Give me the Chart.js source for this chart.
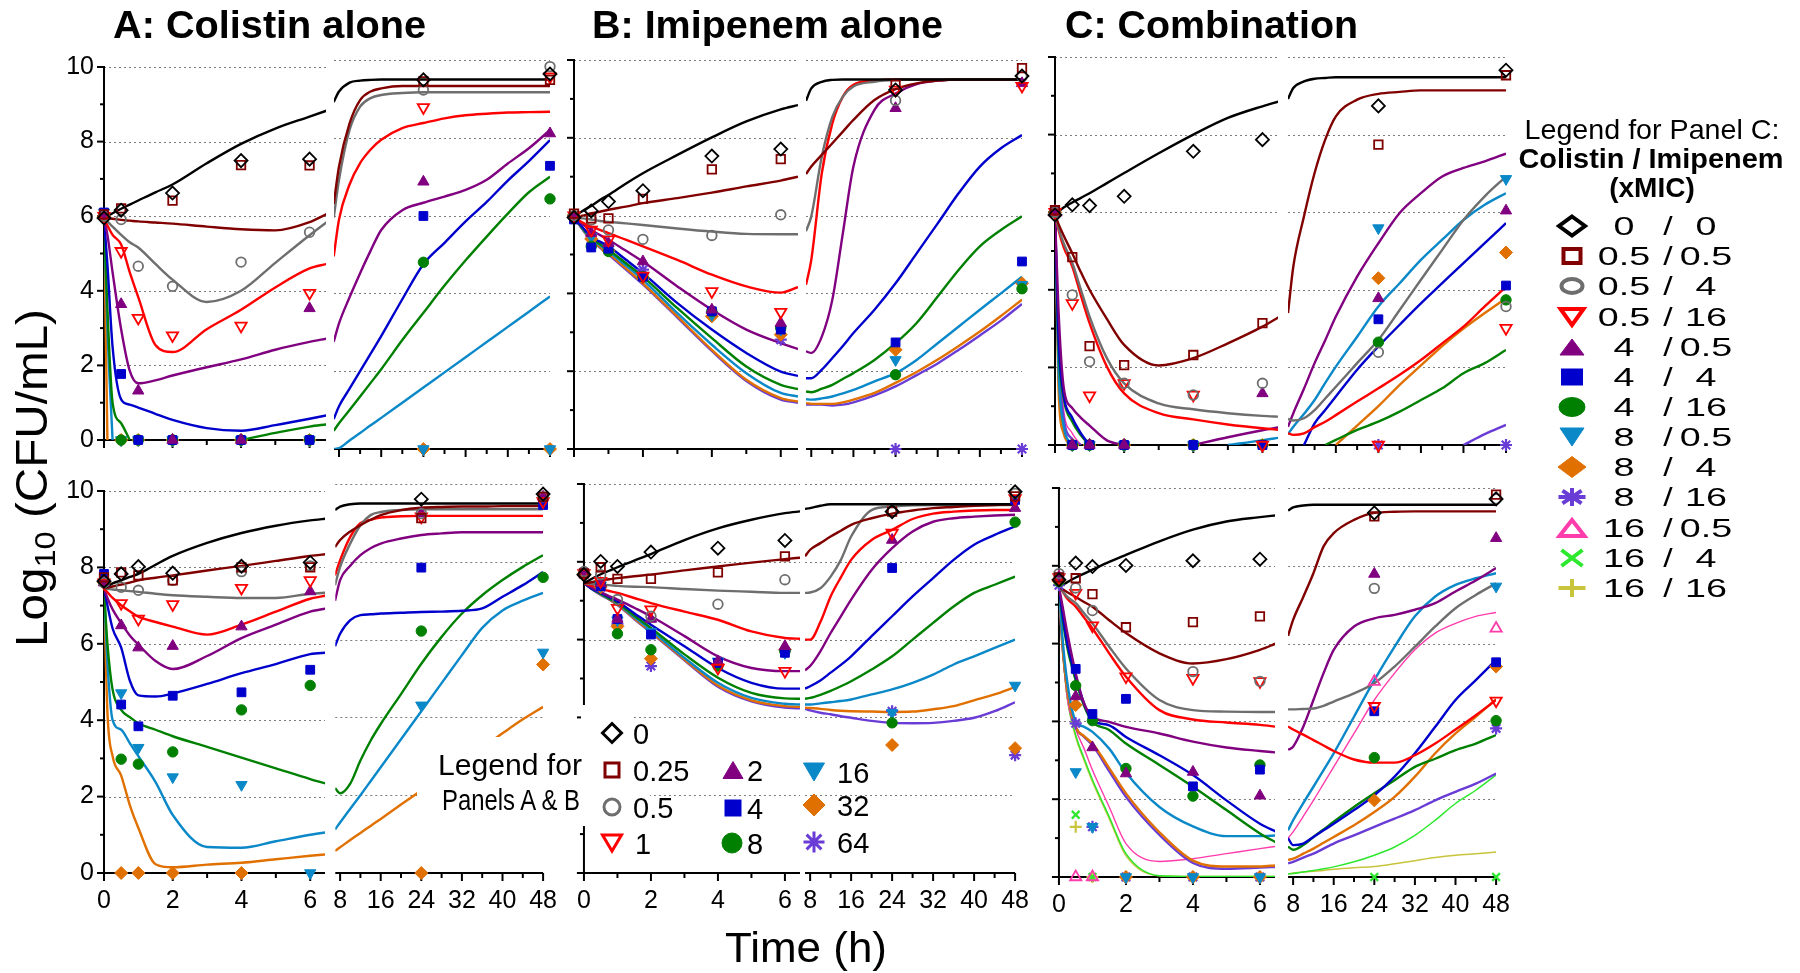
<!DOCTYPE html>
<html><head><meta charset="utf-8">
<script src="https://cdn.jsdelivr.net/npm/chart.js@4.4.1/dist/chart.umd.min.js"></script>
<style>
html,body{margin:0;padding:0;background:#fff;}
#root{position:relative;width:1800px;height:973px;overflow:hidden;background:#fff;}
#root canvas{position:absolute;}
#ov{position:absolute;left:0;top:0;z-index:10;pointer-events:none;}
</style></head><body><div id="root"></div>
<script>
// ---------------- DATA ----------------
const T_EARLY = [0, 0.1, 0.25, 0.5, 0.75, 1, 1.5, 2, 3, 4, 5, 6, 6.5];
const T_LATE = [7, 8, 10, 12, 14, 16, 20, 24, 28, 32, 36, 40, 44, 48];
const T_OBS = [0, 0.5, 1, 2, 4, 6, 24, 48];
const Y_TICKS = [0, 2, 4, 6, 8, 10];
const Y_MINOR = [1, 3, 5, 7, 9];
const GRID_VALUES = [2, 4, 6, 8, 10];
const X_TICKS_EARLY = [0, 2, 4, 6];
const X_MINOR_EARLY = [1, 3, 5];
const X_TICKS_LATE = [8, 16, 24, 32, 40, 48];
const X_MINOR_LATE = [12, 20, 28, 36, 44];
const MONO_LABELS = ['0', '0.25', '0.5', '1', '2', '4', '8', '16', '32', '64'];
const COMBO_LABELS = ['0 / 0', '0.5 / 0.5', '0.5 / 4', '0.5 / 16', '4 / 0.5', '4 / 4', '4 / 16', '8 / 0.5', '8 / 4', '8 / 16', '16 / 0.5', '16 / 4', '16 / 16'];

// Panel A (colistin alone), top
const A_TOP_FIT_EARLY = [
  [5.95, 6.0, 6.08, 6.2, 6.31, 6.42, 6.64, 6.85, 7.42, 7.94, 8.35, 8.67, 8.83],
  [5.95, 5.94, 5.93, 5.9, 5.88, 5.86, 5.83, 5.8, 5.72, 5.65, 5.62, 5.84, 6.06],
  [5.95, 5.86, 5.72, 5.5, 5.3, 5.16, 4.72, 4.3, 3.7, 4.0, 4.75, 5.49, 5.84],
  [5.95, 5.75, 5.5, 5.24, 4.5, 3.83, 2.55, 2.36, 2.97, 3.49, 4.09, 4.6, 4.72],
  [5.95, 5.5, 4.5, 2.97, 1.86, 1.52, 1.6, 1.73, 1.95, 2.16, 2.42, 2.63, 2.72],
  [5.95, 4.7, 2.5, 1.09, 0.95, 0.87, 0.7, 0.54, 0.32, 0.25, 0.4, 0.57, 0.66],
  [5.95, 3.5, 1.0, 0.45, 0, null, null, null, null, 0, 0.19, 0.36, 0.42],
  [5.95, 3.0, 0, null, null, null, null, null, null, null, null, null, null],
  [5.95, 0, null, null, null, null, null, null, null, null, null, null, null]
];
const A_TOP_FIT_LATE = [
  [8.92, 9.19, 9.42, 9.47, 9.49, 9.5, 9.5, 9.5, 9.5, 9.5, 9.5, 9.5, 9.5, 9.5],
  [6.3, 7.26, 8.37, 8.97, 9.19, 9.27, 9.33, 9.33, 9.33, 9.33, 9.33, 9.33, 9.33, 9.33],
  [5.95, 6.92, 8.2, 8.8, 9.02, 9.1, 9.15, 9.17, 9.17, 9.17, 9.17, 9.17, 9.17, 9.17],
  [4.95, 5.9, 6.8, 7.35, 7.7, 7.95, 8.25, 8.38, 8.5, 8.58, 8.62, 8.65, 8.66, 8.67],
  [2.76, 3.23, 3.9, 4.52, 5.1, 5.63, 6.14, 6.33, 6.49, 6.66, 6.92, 7.34, 7.73, 8.2],
  [0.77, 1.1, 1.55, 2.0, 2.45, 2.9, 3.85, 4.75, 5.3, 5.85, 6.35, 6.9, 7.4, 7.94],
  [0.47, 0.66, 1.0, 1.35, 1.7, 2.05, 2.8, 3.5, 4.2, 4.85, 5.46, 6.05, 6.6, 7.0],
  [0, 0.02, 0.22, 0.41, 0.61, 0.8, 1.19, 1.58, 1.97, 2.36, 2.75, 3.14, 3.53, 3.92],
  [null, null, null, null, null, null, null, null, null, null, null, null, null, null]
];
const A_TOP_OBS = [
  [5.95, 6.16, null, 6.62, 7.49, 7.53, 9.49, 9.64],
  [6.05, 6.21, null, 6.42, 7.37, 7.36, 9.45, 9.49],
  [6.0, 5.91, 4.66, 4.12, 4.77, 5.57, 9.23, 9.83],
  [6.0, 5.06, 3.27, 2.8, 3.06, 3.94, 8.78, 9.57],
  [6.0, 3.64, 1.32, 0, 0, 3.53, 6.87, 8.11],
  [6.1, 1.77, 0, 0, 0, 0, 5.99, 7.28],
  [6.0, 0, 0, 0, 0, 0, 4.8, 6.43],
  [6.1, 0, 0, 0, 0, 0, 0, 0],
  [6.0, 0, 0, 0, 0, 0, 0, 0]
];
// Panel A, bottom
const A_BOT_FIT_EARLY = [
  [7.45, 7.5, 7.58, 7.66, 7.75, 7.83, 8.07, 8.3, 8.64, 8.9, 9.09, 9.23, 9.28],
  [7.45, 7.47, 7.5, 7.55, 7.6, 7.66, 7.73, 7.79, 7.92, 8.04, 8.17, 8.3, 8.35],
  [7.45, 7.44, 7.42, 7.4, 7.38, 7.36, 7.31, 7.27, 7.23, 7.2, 7.2, 7.31, 7.34],
  [7.45, 7.35, 7.2, 7.01, 6.85, 6.71, 6.57, 6.45, 6.24, 6.5, 6.84, 7.18, 7.27],
  [7.45, 7.2, 6.9, 6.54, 6.22, 5.98, 5.55, 5.34, 5.68, 6.15, 6.5, 6.84, 6.93],
  [7.45, 7.0, 6.4, 5.9, 5.04, 4.65, 4.62, 4.7, 4.95, 5.23, 5.47, 5.73, 5.77],
  [7.45, 6.0, 4.8, 4.27, 4.08, 3.92, 3.75, 3.58, 3.3, 3.02, 2.74, 2.46, 2.33],
  [7.45, 5.5, 4.0, 3.75, 3.4, 3.06, 2.38, 1.52, 0.68, 0.66, 0.83, 1.0, 1.07],
  [7.45, 4.2, 3.06, 2.55, 1.78, 1.18, 0.23, 0.15, 0.22, 0.27, 0.36, 0.45, 0.49]
];
const A_BOT_FIT_LATE = [
  [9.33, 9.42, 9.48, 9.5, 9.5, 9.5, 9.5, 9.5, 9.5, 9.5, 9.5, 9.5, 9.5, 9.5],
  [8.38, 8.56, 8.78, 8.94, 9.08, 9.2, 9.33, 9.39, 9.41, 9.42, 9.42, 9.43, 9.43, 9.43],
  [7.4, 7.87, 8.47, 8.94, 9.2, 9.28, 9.33, 9.35, 9.35, 9.35, 9.35, 9.35, 9.35, 9.35],
  [7.65, 8.04, 8.64, 8.99, 9.08, 9.14, 9.17, 9.18, 9.18, 9.18, 9.18, 9.18, 9.18, 9.18],
  [7.0, 7.53, 7.9, 8.17, 8.35, 8.47, 8.6, 8.69, 8.73, 8.76, 8.76, 8.76, 8.76, 8.76],
  [5.83, 6.15, 6.5, 6.63, 6.65, 6.67, 6.69, 6.71, 6.72, 6.74, 6.8, 7.1, 7.4, 7.74],
  [2.18, 2.05, 2.3, 2.89, 3.4, 3.83, 4.6, 5.38, 6.07, 6.67, 7.14, 7.53, 7.87, 8.17],
  [1.12, 1.3, 1.65, 2.0, 2.36, 2.72, 3.44, 4.16, 4.88, 5.6, 6.3, 6.75, 7.0, 7.2],
  [0.57, 0.66, 0.85, 1.03, 1.21, 1.39, 1.76, 2.12, 2.49, 2.86, 3.22, 3.59, 3.95, 4.27]
];
const A_BOT_OBS = [
  [7.64, 7.83, 8.02, 7.85, 8.03, 8.13, 9.61, 9.74],
  [7.74, 7.87, 7.79, 7.66, 8.0, 8.0, 9.12, 9.67],
  [7.6, 7.48, 7.4, 7.66, 7.89, 8.04, 9.24, 9.67],
  [7.6, 7.06, 6.65, 7.03, 7.46, 7.66, 9.16, 9.55],
  [7.6, 6.48, 5.9, 5.94, 6.45, 7.37, 9.24, 9.67],
  [7.83, 4.41, 3.84, 4.64, 4.73, 5.32, 7.85, 9.46],
  [7.6, 2.98, 2.85, 3.17, 4.27, 4.91, 6.22, 7.6],
  [7.6, 4.71, 3.28, 2.51, 2.31, 0, 4.31, 5.67],
  [7.6, 0, 0, 0, 0, null, 0, 5.36]
];
// Panel B (imipenem alone), top
const B_TOP_FIT_EARLY = [
  [5.95, 6.03, 6.12, 6.25, 6.4, 6.53, 6.82, 7.09, 7.56, 8.01, 8.42, 8.73, 8.84],
  [5.95, 5.97, 6.0, 6.06, 6.1, 6.15, 6.23, 6.32, 6.45, 6.59, 6.75, 6.9, 7.0],
  [5.95, 5.94, 5.93, 5.9, 5.86, 5.84, 5.8, 5.76, 5.67, 5.59, 5.53, 5.52, 5.52],
  [5.95, 5.9, 5.82, 5.72, 5.63, 5.55, 5.38, 5.21, 4.86, 4.48, 4.18, 4.02, 4.16],
  [5.95, 5.88, 5.78, 5.63, 5.5, 5.38, 5.1, 4.82, 4.18, 3.58, 3.07, 2.72, 2.57],
  [5.95, 5.85, 5.7, 5.45, 5.33, 5.21, 4.87, 4.52, 3.75, 3.07, 2.47, 1.99, 1.88],
  [5.95, 5.85, 5.68, 5.42, 5.27, 5.12, 4.78, 4.43, 3.62, 2.85, 2.12, 1.65, 1.54],
  [5.95, 5.84, 5.66, 5.4, 5.24, 5.08, 4.72, 4.35, 3.49, 2.68, 1.95, 1.44, 1.35],
  [5.95, 5.83, 5.65, 5.37, 5.2, 5.03, 4.65, 4.26, 3.41, 2.55, 1.78, 1.31, 1.22],
  [5.95, 5.83, 5.64, 5.36, 5.18, 5.0, 4.62, 4.23, 3.38, 2.52, 1.75, 1.27, 1.19]
];
const B_TOP_FIT_LATE = [
  [8.95, 9.27, 9.44, 9.49, 9.5, 9.5, 9.5, 9.5, 9.5, 9.5, 9.5, 9.5, 9.5, 9.5],
  [7.07, 7.26, 7.56, 7.86, 8.16, 8.46, 8.97, 9.25, 9.4, 9.47, 9.5, 9.5, 9.5, 9.5],
  [5.6, 5.98, 7.52, 8.54, 9.06, 9.32, 9.44, 9.49, 9.5, 9.5, 9.5, 9.5, 9.5, 9.5],
  [4.22, 4.86, 7.09, 8.37, 9.06, 9.36, 9.47, 9.5, 9.5, 9.5, 9.5, 9.5, 9.5, 9.5],
  [2.51, 2.47, 2.89, 3.84, 5.55, 7.26, 8.72, 9.14, 9.38, 9.47, 9.5, 9.5, 9.5, 9.5],
  [1.82, 1.82, 2.04, 2.34, 2.65, 2.98, 3.58, 4.26, 5.03, 5.8, 6.58, 7.26, 7.73, 8.07],
  [1.48, 1.46, 1.55, 1.65, 1.8, 1.95, 2.29, 2.72, 3.24, 3.92, 4.61, 5.21, 5.63, 5.98],
  [1.28, 1.27, 1.3, 1.35, 1.43, 1.52, 1.74, 1.95, 2.29, 2.72, 3.15, 3.58, 4.0, 4.43],
  [1.18, 1.16, 1.16, 1.16, 1.2, 1.27, 1.44, 1.7, 1.98, 2.3, 2.65, 3.02, 3.42, 3.84],
  [1.14, 1.14, 1.14, 1.12, 1.14, 1.2, 1.38, 1.61, 1.9, 2.2, 2.55, 2.92, 3.3, 3.73]
];
const B_TOP_OBS = [
  [5.95, 6.12, 6.36, 6.64, 7.53, 7.71, 9.23, 9.59],
  [6.05, 5.93, 5.93, 6.43, 7.19, 7.45, 9.36, 9.79],
  [6.0, 5.89, 5.63, 5.39, 5.49, 6.02, 8.96, 9.57],
  [6.0, 5.63, 5.38, 4.45, 4.05, 3.52, 9.23, 9.33],
  [6.0, 5.55, 5.29, 4.82, 3.58, 3.24, 8.76, 9.4],
  [5.9, 5.18, 5.15, 4.43, 3.54, 3.07, 2.74, 4.82],
  [5.95, 5.21, 5.08, 4.43, 3.54, 3.11, 1.91, 4.12],
  [5.95, 5.46, 5.16, 4.43, 3.45, 3.07, 2.29, 4.22],
  [6.0, 5.4, 5.1, 4.4, 3.41, 2.94, 2.55, 4.26],
  [6.0, 5.4, 5.1, 4.61, 3.5, 2.81, 0, 0]
];
// Panel B, bottom
const B_BOT_FIT_EARLY = [
  [7.45, 7.5, 7.57, 7.68, 7.77, 7.86, 8.03, 8.2, 8.56, 8.86, 9.08, 9.25, 9.3],
  [7.45, 7.46, 7.48, 7.52, 7.55, 7.58, 7.63, 7.67, 7.78, 7.88, 7.98, 8.07, 8.11],
  [7.45, 7.44, 7.43, 7.41, 7.4, 7.38, 7.36, 7.35, 7.3, 7.26, 7.23, 7.2, 7.2],
  [7.45, 7.42, 7.38, 7.3, 7.25, 7.2, 7.07, 6.94, 6.72, 6.51, 6.21, 6.04, 6.02],
  [7.45, 7.4, 7.33, 7.22, 7.12, 7.03, 6.82, 6.6, 6.09, 5.57, 5.27, 5.19, 5.19],
  [7.45, 7.39, 7.3, 7.2, 7.09, 6.98, 6.68, 6.38, 5.83, 5.27, 4.89, 4.74, 4.74],
  [7.45, 7.39, 7.3, 7.18, 7.06, 6.94, 6.62, 6.3, 5.62, 5.02, 4.63, 4.49, 4.48],
  [7.45, 7.39, 7.3, 7.17, 7.05, 6.92, 6.58, 6.24, 5.53, 4.89, 4.5, 4.35, 4.33],
  [7.45, 7.39, 7.3, 7.16, 7.04, 6.9, 6.55, 6.2, 5.49, 4.82, 4.44, 4.29, 4.27],
  [7.45, 7.39, 7.29, 7.15, 7.03, 6.89, 6.53, 6.18, 5.47, 4.79, 4.41, 4.25, 4.23]
];
const B_BOT_FIT_LATE = [
  [9.36, 9.38, 9.44, 9.48, 9.48, 9.48, 9.48, 9.48, 9.48, 9.48, 9.48, 9.48, 9.48, 9.48],
  [8.14, 8.31, 8.48, 8.65, 8.8, 8.95, 9.12, 9.24, 9.32, 9.38, 9.41, 9.44, 9.46, 9.48],
  [7.2, 7.21, 7.32, 7.62, 8.05, 8.65, 9.33, 9.42, 9.45, 9.46, 9.46, 9.46, 9.46, 9.46],
  [6.0, 6.0, 6.45, 7.11, 7.6, 8.05, 8.56, 8.82, 9.1, 9.24, 9.29, 9.32, 9.33, 9.33],
  [5.21, 5.32, 5.7, 6.17, 6.6, 7.03, 7.79, 8.35, 8.78, 9.03, 9.12, 9.16, 9.19, 9.21],
  [4.74, 4.8, 4.95, 5.15, 5.35, 5.57, 6.09, 6.6, 7.11, 7.58, 8.05, 8.44, 8.69, 8.91],
  [4.48, 4.5, 4.58, 4.68, 4.8, 4.93, 5.23, 5.57, 6.0, 6.43, 6.85, 7.2, 7.41, 7.62],
  [4.33, 4.33, 4.36, 4.39, 4.42, 4.46, 4.59, 4.72, 4.89, 5.1, 5.36, 5.57, 5.79, 6.0],
  [4.25, 4.24, 4.22, 4.19, 4.17, 4.16, 4.15, 4.14, 4.15, 4.21, 4.29, 4.44, 4.59, 4.78],
  [4.22, 4.18, 4.12, 4.08, 4.03, 3.99, 3.91, 3.86, 3.85, 3.86, 3.91, 3.99, 4.16, 4.39]
];
const B_BOT_OBS = [
  [7.67, 8.01, 7.88, 8.25, 8.35, 8.55, 9.29, 9.8],
  [7.7, 7.86, 7.56, 7.56, 7.73, 8.14, 9.29, 9.68],
  [7.75, 7.67, 7.03, 6.6, 6.91, 7.54, 9.29, 9.76],
  [7.7, 7.5, 6.81, 6.77, 5.27, 5.19, 8.74, 9.63],
  [7.7, 7.45, 6.53, 6.53, 5.44, 5.83, 8.56, 9.38],
  [7.7, 7.37, 6.53, 6.13, 5.4, 5.66, 7.84, 9.59],
  [7.7, 7.4, 6.15, 5.74, 5.32, 5.7, 3.86, 9.02],
  [7.7, 7.4, 6.5, 6.2, 5.44, 5.66, 4.12, 4.82],
  [7.7, 7.35, 6.34, 5.51, 5.35, 5.74, 3.29, 3.21],
  [7.7, 7.35, 6.4, 5.32, 5.35, 5.7, 4.16, 3.03]
];
// Panel C (combination), top
const C_TOP_FIT_EARLY = [
  [5.95, 6.02, 6.12, 6.25, 6.37, 6.49, 6.75, 7.01, 7.52, 8.0, 8.43, 8.73, 8.86],
  [5.95, 5.7, 5.4, 4.94, 4.45, 4.0, 3.25, 2.58, 2.05, 2.24, 2.62, 3.05, 3.31],
  [5.95, 5.6, 5.2, 4.69, 4.0, 3.31, 2.24, 1.59, 1.07, 0.92, 0.82, 0.75, 0.73],
  [5.95, 5.55, 5.1, 4.6, 3.85, 3.14, 2.02, 1.33, 0.82, 0.66, 0.53, 0.43, 0.39],
  [5.95, 3.5, 1.5, 0.95, 0.7, 0.5, 0.12, 0, null, 0, 0.2, 0.38, 0.46],
  [5.95, 2.8, 1.3, 0.7, 0.3, 0, null, null, null, null, null, null, null],
  [5.95, 2.6, 1.2, 0.6, 0.25, 0, null, null, null, null, null, null, null],
  [5.95, 2.0, 0.5, 0, null, null, null, null, null, null, 0, 0.12, 0.19],
  [5.95, 1.5, 0.3, 0, null, null, null, null, null, null, null, null, null],
  [5.95, 2.3, 0.7, 0.15, 0, null, null, null, null, null, null, null, null],
  [5.95, 2.6, 0.9, 0.3, 0, null, null, null, null, null, null, null, null],
  [5.95, 1.8, 0.4, 0, null, null, null, null, null, null, null, null, null],
  [5.95, 1.8, 0.4, 0, null, null, null, null, null, null, null, null, null]
];
const C_TOP_FIT_LATE = [
  [8.92, 9.2, 9.37, 9.44, 9.46, 9.48, 9.48, 9.48, 9.48, 9.48, 9.48, 9.48, 9.48, 9.48],
  [3.4, 4.6, 5.89, 7.01, 7.87, 8.47, 8.9, 9.05, 9.1, 9.14, 9.14, 9.14, 9.14, 9.14],
  [0.67, 0.63, 0.69, 0.9, 1.2, 1.5, 2.11, 2.71, 3.48, 4.26, 5.03, 5.8, 6.41, 6.92],
  [0.3, 0.26, 0.3, 0.46, 0.6, 0.77, 1.12, 1.46, 1.81, 2.19, 2.62, 3.05, 3.57, 4.08],
  [0.47, 0.82, 1.45, 2.11, 2.7, 3.31, 4.34, 5.2, 5.98, 6.49, 6.92, 7.14, 7.31, 7.51],
  [null, null, 0, 0.56, 0.9, 1.25, 1.94, 2.54, 3.1, 3.65, 4.17, 4.69, 5.2, 5.72],
  [null, null, null, null, 0, 0.13, 0.39, 0.6, 0.86, 1.16, 1.46, 1.85, 2.11, 2.45],
  [0.28, 0.47, 0.8, 1.16, 1.6, 2.02, 2.79, 3.57, 4.17, 4.77, 5.29, 5.8, 6.19, 6.49],
  [null, null, null, null, null, 0, 0.5, 1.0, 1.55, 2.05, 2.55, 3.0, 3.4, 3.78],
  [null, null, null, null, null, null, null, null, null, null, null, 0, 0.28, 0.52],
  [null, null, null, null, null, null, null, null, null, null, null, null, null, null],
  [null, null, null, null, null, null, null, null, null, null, null, null, null, null],
  [null, null, null, null, null, null, null, null, null, null, null, null, null, null]
];
const C_TOP_OBS = [
  [5.93, 6.19, 6.17, 6.41, 7.57, 7.87, 8.74, 9.66],
  [6.05, 4.84, 2.55, 2.06, 2.32, 3.14, 7.74, 9.53],
  [6.0, 3.87, 2.15, 1.59, 1.29, 1.59, 2.39, 3.57],
  [6.0, 3.65, 1.27, 1.59, 1.29, 0, 0, 3.01],
  [6.0, 0, 0, 0, null, 1.33, 3.78, 6.04],
  [6.0, 0, 0, 0, 0, 0, 3.24, 4.11],
  [6.0, 0, 0, 0, 0, 0, 2.65, 3.74],
  [6.0, 0, 0, 0, 0, 0, 5.59, 6.86],
  [6.0, 0, 0, 0, 0, 0, 4.3, 4.96],
  [6.0, 0, 0, 0, 0, 0, 0, 0],
  [6.0, null, null, null, null, null, null, null],
  [6.0, null, null, null, null, null, null, null],
  [6.0, null, null, null, null, null, null, null]
];
// Panel C, bottom
const C_BOT_FIT_EARLY = [
  [7.45, 7.5, 7.58, 7.7, 7.8, 7.9, 8.1, 8.28, 8.63, 8.93, 9.14, 9.25, 9.3],
  [7.45, 7.4, 7.32, 7.2, 7.07, 6.95, 6.6, 6.27, 5.75, 5.49, 5.6, 5.84, 6.01],
  [7.45, 7.35, 7.2, 7.04, 6.78, 6.52, 5.92, 5.36, 4.55, 4.29, 4.25, 4.24, 4.24],
  [7.45, 7.35, 7.15, 6.95, 6.67, 6.39, 5.75, 5.15, 4.29, 4.05, 3.97, 3.91, 3.86],
  [7.45, 7.0, 6.27, 5.24, 4.46, 4.12, 3.99, 3.86, 3.69, 3.48, 3.33, 3.24, 3.2],
  [7.45, 6.8, 6.0, 5.15, 4.46, 4.03, 3.9, 3.6, 3.13, 2.62, 1.97, 1.37, 1.16],
  [7.45, 6.7, 5.9, 5.06, 4.4, 3.99, 3.78, 3.43, 2.88, 2.32, 1.72, 1.12, 0.88],
  [7.45, 6.2, 5.0, 4.0, 3.86, 3.73, 3.3, 2.68, 1.8, 1.3, 1.05, 1.05, 1.07],
  [7.45, 6.0, 4.8, 3.86, 3.62, 3.43, 2.8, 2.15, 1.15, 0.42, 0.27, 0.27, 0.3],
  [7.45, 6.0, 4.8, 3.86, 3.6, 3.39, 2.72, 2.06, 1.08, 0.36, 0.21, 0.24, 0.26],
  [7.45, 6.0, 4.6, 3.8, 3.3, 2.75, 1.8, 0.86, 0.4, 0.47, 0.6, 0.73, 0.79],
  [7.45, 6.0, 4.6, 3.65, 3.05, 2.5, 1.55, 0.6, 0.03, 0.01, 0.01, 0.01, 0.01],
  [7.45, 6.0, 4.6, 3.6, 3.0, 2.45, 1.5, 0.55, 0.03, 0.01, 0.01, 0.01, 0.01]
];
const C_BOT_FIT_LATE = [
  [9.42, 9.5, 9.55, 9.57, 9.57, 9.57, 9.57, 9.57, 9.57, 9.57, 9.57, 9.57, 9.57, 9.57],
  [6.2, 6.61, 7.2, 7.81, 8.5, 8.84, 9.18, 9.36, 9.39, 9.4, 9.4, 9.4, 9.4, 9.4],
  [4.31, 4.31, 4.32, 4.33, 4.4, 4.51, 4.72, 4.98, 5.41, 5.92, 6.44, 6.91, 7.25, 7.55],
  [3.87, 3.79, 3.66, 3.52, 3.38, 3.24, 3.02, 2.94, 2.94, 3.13, 3.43, 3.79, 4.16, 4.55],
  [3.27, 3.35, 3.86, 4.55, 5.24, 5.84, 6.44, 6.65, 6.74, 6.87, 7.04, 7.34, 7.62, 7.94],
  [1.0, 0.82, 0.86, 1.03, 1.2, 1.37, 1.72, 2.1, 2.58, 3.18, 3.86, 4.55, 5.06, 5.58],
  [0.78, 0.7, 0.82, 1.03, 1.22, 1.42, 1.8, 2.15, 2.49, 2.83, 3.04, 3.26, 3.43, 3.65],
  [1.2, 1.46, 1.9, 2.32, 2.75, 3.18, 4.12, 5.06, 5.92, 6.7, 7.21, 7.51, 7.68, 7.81],
  [0.44, 0.47, 0.6, 0.73, 0.88, 1.03, 1.33, 1.67, 2.06, 2.58, 3.18, 3.69, 4.12, 4.57],
  [0.35, 0.39, 0.5, 0.6, 0.73, 0.86, 1.07, 1.29, 1.5, 1.72, 1.97, 2.19, 2.4, 2.66],
  [1.0, 1.16, 1.56, 1.97, 2.4, 2.83, 3.69, 4.55, 5.24, 5.84, 6.27, 6.52, 6.7, 6.8],
  [0.08, 0.09, 0.13, 0.17, 0.21, 0.26, 0.39, 0.56, 0.77, 1.07, 1.46, 1.89, 2.23, 2.62],
  [0.08, 0.1, 0.13, 0.15, 0.17, 0.2, 0.24, 0.27, 0.34, 0.42, 0.5, 0.56, 0.6, 0.64]
];
const C_BOT_OBS = [
  [7.64, 8.07, 7.98, 8.01, 8.13, 8.17, 9.36, 9.72],
  [7.7, 7.68, 7.27, 6.42, 6.55, 6.7, 9.27, 9.83],
  [7.8, 7.43, 6.85, null, 5.28, 5.03, 7.42, 9.72],
  [7.7, 7.3, 6.46, 5.15, 5.11, 5.03, 4.39, 4.53],
  [7.7, 4.64, 3.33, 2.66, 2.7, 2.09, 7.79, 8.71],
  [7.7, 5.35, 4.19, 4.58, 2.33, 2.76, 4.26, 5.52],
  [7.6, 4.92, 4.02, 2.79, 2.08, 2.88, 3.07, 4.02],
  [7.6, 2.7, 1.29, 0, 0, 0, null, 7.47],
  [7.6, 4.42, null, 0, 0, 0, 1.97, 5.41],
  [7.5, 3.95, 1.29, 0, 0, 0, null, 3.82],
  [7.7, 0, 0, null, null, null, 5.02, 6.39],
  [7.6, 1.6, 0, null, null, null, 0, 0],
  [7.6, 1.29, 0, null, null, null, null, null]
];

// ---------------- STYLES ----------------
const SERIES_COLORS = ['#000000', '#800000', '#6e6e6e', '#ff0000', '#800080', '#0000cc', '#008000', '#0a88c8', '#e07000', '#6a3cd6', '#ff3cac', '#2ee82e', '#c8c43c'];
const SERIES_MARKERS = ['rectRot', 'rect', 'circle', 'triangle', 'triangle', 'rect', 'circle', 'triangle', 'rectRot', 'star', 'triangle', 'crossRot', 'cross'];
const SERIES_ROT = [0, 0, 0, 180, 0, 0, 0, 180, 0, 0, 0, 0, 0];
const SERIES_OPEN = [true, true, true, true, false, false, false, false, false, false, true, false, false];
const SERIES_RADIUS = [6.5, 6, 4.8, 6.5, 6.5, 6.2, 5.2, 6.5, 6.5, 6, 6.5, 5.5, 6];
const LINE_WIDTHS = [2.4, 2.4, 2.4, 2.4, 2.4, 2.4, 2.4, 2.4, 2.4, 2.4, 1.4, 1.5, 1.5];
const TICK_FONT = {family: "'Liberation Sans',Arial,Helvetica,sans-serif", size: 25};

// ---------------- LAYOUT ----------------
const PANELS = [
  {y0: 60, y1: 449, Lx0: 104, Lppu: 34.3, Lmax: 6.48, Rx8: 338.7, Rppu: 5.29, Rmin: 7.05, fitE: A_TOP_FIT_EARLY, fitL: A_TOP_FIT_LATE, obs: A_TOP_OBS, yLabels: true, xLabels: false},
  {y0: 484, y1: 873, Lx0: 104, Lppu: 34.33, Lmax: 6.43, Rx8: 338.7, Rppu: 5.28, Rmin: 7.05, fitE: A_BOT_FIT_EARLY, fitL: A_BOT_FIT_LATE, obs: A_BOT_OBS, yLabels: true, xLabels: true},
  {y0: 60, y1: 449, Lx0: 574, Lppu: 34.45, Lmax: 6.5, Rx8: 811, Rppu: 5.275, Rmin: 7.0, fitE: B_TOP_FIT_EARLY, fitL: B_TOP_FIT_LATE, obs: B_TOP_OBS, yLabels: false, xLabels: false},
  {y0: 484, y1: 873, Lx0: 578, Lppu: 34.35, Lmax: 6.45, Rx8: 809, Rppu: 5.325, Rmin: 7.0, fitE: B_BOT_FIT_EARLY, fitL: B_BOT_FIT_LATE, obs: B_BOT_OBS, yLabels: false, xLabels: true},
  {y0: 57, y1: 445, Lx0: 1055, Lppu: 34.5, Lmax: 6.45, Rx8: 1293, Rppu: 5.325, Rmin: 7.0, fitE: C_TOP_FIT_EARLY, fitL: C_TOP_FIT_LATE, obs: C_TOP_OBS, yLabels: false, xLabels: false},
  {y0: 488, y1: 877, Lx0: 1053, Lppu: 34.35, Lmax: 6.45, Rx8: 1292, Rppu: 5.275, Rmin: 7.0, fitE: C_BOT_FIT_EARLY, fitL: C_BOT_FIT_LATE, obs: C_BOT_OBS, yLabels: false, xLabels: true}
];

const axisPlugin = {
  id: 'axisDraw',
  beforeDatasetsDraw(chart) {
    const o = chart.options.plugins.axisDraw;
    const ctx = chart.ctx, ca = chart.chartArea, xs = chart.scales.x, ys = chart.scales.y;
    const seg = (a, b, c, d) => { ctx.beginPath(); ctx.moveTo(a, b); ctx.lineTo(c, d); ctx.stroke(); };
    ctx.save();
    ctx.strokeStyle = '#7d7d7d'; ctx.lineWidth = 1; ctx.setLineDash([2, 3]);
    GRID_VALUES.forEach(v => { const py = Math.round(ys.getPixelForValue(v)) + 0.5; seg(ca.left, py, ca.right, py); });
    ctx.setLineDash([]);
    ctx.strokeStyle = '#000'; ctx.lineWidth = 2;
    const by = ys.getPixelForValue(0);
    seg(ca.left - o.extendLeft, by, ca.right, by);
    o.xMajor.forEach(t => { const px = xs.getPixelForValue(t); seg(px, by, px, by + 8); });
    o.xMinor.forEach(t => { const px = xs.getPixelForValue(t); seg(px, by, px, by + 5); });
    if (o.yAxis) {
      const ax = xs.getPixelForValue(0);
      seg(ax, ys.getPixelForValue(10) - 1, ax, by + 1);
      Y_TICKS.forEach(v => { const py = ys.getPixelForValue(v); seg(ax - 7, py, ax, py); });
      Y_MINOR.forEach(v => { const py = ys.getPixelForValue(v); seg(ax - 4, py, ax, py); });
    }
    ctx.restore();
  }
};

const root = document.getElementById('root');

function addChart(p, side) {
  const L = side === 'L';
  const xmin = L ? 0 : p.Rmin, xmax = L ? p.Lmax : 48;
  const x0 = Math.round(L ? p.Lx0 : p.Rx8 - (8 - p.Rmin) * p.Rppu);
  const x1 = Math.round(L ? p.Lx0 + p.Lmax * p.Lppu : p.Rx8 + 40 * p.Rppu);
  const y0 = Math.round(p.y0), y1 = Math.round(p.y1);
  const padL = (L && p.yLabels) ? 70 : 14, padR = 20, padT = 18, padB = p.xLabels ? 52 : 16;
  const W = x1 - x0 + padL + padR, H = y1 - y0 + padT + padB;
  const cv = document.createElement('canvas');
  cv.width = W; cv.height = H;
  cv.style.left = (x0 - padL) + 'px'; cv.style.top = (y0 - padT) + 'px';
  cv.style.width = W + 'px'; cv.style.height = H + 'px';
  root.appendChild(cv);
  const times = L ? T_EARLY : T_LATE;
  const fit = L ? p.fitE : p.fitL;
  const datasets = [];
  p.obs.forEach((row, i) => {
    const pts = [];
    row.forEach((v, k) => {
      const t = T_OBS[k];
      if (v !== null && t >= xmin - 0.2 && t <= xmax + 0.01) pts.push({x: t, y: v});
    });
    if (!pts.length) return;
    const c = SERIES_COLORS[i];
    const open = SERIES_OPEN[i];
    const strokeOnly = ['star', 'cross', 'crossRot'].includes(SERIES_MARKERS[i]);
    datasets.push({
      data: pts, showLine: false, order: 1, clip: false,
      pointStyle: SERIES_MARKERS[i], pointRotation: SERIES_ROT[i], pointRadius: SERIES_RADIUS[i],
      pointBackgroundColor: open ? 'rgba(0,0,0,0)' : c, pointBorderColor: c,
      pointBorderWidth: strokeOnly ? 2.2 : (open ? 1.8 : 1)
    });
  });
  fit.forEach((row, i) => {
    const pts = times.map((t, k) => ({x: t, y: row[k]}));
    if (!row.some(v => v !== null)) return;
    datasets.push({
      data: pts, order: 2, borderColor: SERIES_COLORS[i], borderWidth: LINE_WIDTHS[i],
      pointRadius: 0, fill: false, cubicInterpolationMode: 'monotone', spanGaps: false
    });
  });
  new Chart(cv.getContext('2d'), {
    type: 'line',
    data: {datasets},
    options: {
      responsive: false, animation: false, devicePixelRatio: 1, events: [],
      layout: {padding: {left: 0, right: padR, top: padT, bottom: 0}},
      plugins: {
        legend: {display: false}, tooltip: {enabled: false},
        axisDraw: {extendLeft: L ? 7 : 0, xMajor: L ? X_TICKS_EARLY : X_TICKS_LATE, xMinor: L ? X_MINOR_EARLY : X_MINOR_LATE, yAxis: L}
      },
      scales: {
        x: {
          type: 'linear', position: 'bottom', min: xmin, max: xmax,
          afterFit: s => { s.height = padB; },
          afterBuildTicks: s => { s.ticks = (L ? X_TICKS_EARLY : X_TICKS_LATE).map(v => ({value: v})); },
          ticks: {display: p.xLabels, autoSkip: false, maxRotation: 0, minRotation: 0, padding: 13, font: TICK_FONT, color: '#000'},
          grid: {display: false, drawTicks: false}, border: {display: false}
        },
        y: {
          type: 'linear', position: 'left', min: 0, max: 10,
          afterFit: s => { s.width = padL; },
          afterBuildTicks: s => { s.ticks = Y_TICKS.map(v => ({value: v})); },
          ticks: {display: L && p.yLabels, padding: 10, font: TICK_FONT, color: '#000'},
          grid: {display: false, drawTicks: false}, border: {display: false}
        }
      }
    },
    plugins: [axisPlugin]
  });
}
PANELS.forEach(p => { addChart(p, 'L'); addChart(p, 'R'); });

// ---------------- TEXT / LEGENDS (SVG overlay) ----------------
function symbol(kind, rot, cx, cy, w, h, color, open, sw) {
  const ins = open || ['star', 'cross', 'crossRot'].includes(kind) ? sw / 2 : 0.5;
  const a = w / 2 - ins, b = h / 2 - ins;
  const st = `stroke="${color}" stroke-width="${open ? sw : 1}" fill="${open ? 'none' : color}" stroke-linejoin="miter"`;
  const ln = `stroke="${color}" stroke-width="${sw}" stroke-linecap="butt"`;
  switch (kind) {
    case 'rectRot': return `<polygon points="${cx},${cy - b} ${cx + a},${cy} ${cx},${cy + b} ${cx - a},${cy}" ${st}/>`;
    case 'rect': return `<rect x="${cx - a}" y="${cy - b}" width="${2 * a}" height="${2 * b}" ${st}/>`;
    case 'circle': return `<ellipse cx="${cx}" cy="${cy}" rx="${a}" ry="${b}" ${st}/>`;
    case 'triangle':
      if (rot === 180) return `<polygon points="${cx - a},${cy - b} ${cx + a},${cy - b} ${cx},${cy + b}" ${st}/>`;
      return `<polygon points="${cx},${cy - b} ${cx + a},${cy + b} ${cx - a},${cy + b}" ${st}/>`;
    case 'star': {
      const d = 0.707;
      return `<path d="M${cx - a},${cy}H${cx + a}M${cx},${cy - b}V${cy + b}M${cx - a * d},${cy - b * d}L${cx + a * d},${cy + b * d}M${cx - a * d},${cy + b * d}L${cx + a * d},${cy - b * d}" ${ln}/>`;
    }
    case 'crossRot': return `<path d="M${cx - a},${cy - b}L${cx + a},${cy + b}M${cx - a},${cy + b}L${cx + a},${cy - b}" ${ln}/>`;
    case 'cross': return `<path d="M${cx - a},${cy}H${cx + a}M${cx},${cy - b}V${cy + b}" ${ln}/>`;
  }
  return '';
}
const S = [];
const FF = "Liberation Sans,Arial,Helvetica,sans-serif";
// titles
S.push(`<text x="113" y="38" font-size="39" font-weight="bold" textLength="313" lengthAdjust="spacingAndGlyphs">A: Colistin alone</text>`);
S.push(`<text x="592" y="38" font-size="39" font-weight="bold" textLength="351" lengthAdjust="spacingAndGlyphs">B: Imipenem alone</text>`);
S.push(`<text x="1065" y="38" font-size="39" font-weight="bold" textLength="293" lengthAdjust="spacingAndGlyphs">C: Combination</text>`);
// axis titles
S.push(`<text transform="rotate(-90 30 478)" x="30" y="495" text-anchor="middle" font-size="44" textLength="338" lengthAdjust="spacingAndGlyphs">Log<tspan font-size="30" dy="8">10</tspan><tspan dy="-8"> (CFU/mL)</tspan></text>`);
S.push(`<text x="725" y="962" font-size="42" textLength="162" lengthAdjust="spacingAndGlyphs">Time (h)</text>`);
// legend A & B : white backing
S.push(`<rect x="417" y="737" width="233" height="89" fill="#fff"/>`);
S.push(`<rect x="581" y="705" width="50" height="33" fill="#fff"/>`);
S.push(`<text x="438" y="775" font-size="30" textLength="144" lengthAdjust="spacingAndGlyphs">Legend for</text>`);
S.push(`<text x="442" y="810" font-size="30" textLength="138" lengthAdjust="spacingAndGlyphs">Panels A &amp; B</text>`);
const AB_ITEMS = [
  [0, 612, 733, 22, 22, 633], [1, 612, 770, 17, 17, 633], [2, 612, 807, 19, 19, 633], [3, 612, 843, 22, 19, 635],
  [4, 733, 770, 21, 18, 747], [5, 733, 808, 17, 17, 747], [6, 732, 843, 21, 21, 747],
  [7, 814, 772, 22, 19, 837], [8, 814, 805, 23, 23, 837], [9, 814, 842, 24, 24, 837]
];
AB_ITEMS.forEach(([i, cx, cy, w, h, tx]) => {
  S.push(symbol(SERIES_MARKERS[i], SERIES_ROT[i], cx, cy, w, h, SERIES_COLORS[i], SERIES_OPEN[i], 3));
  S.push(`<text x="${tx}" y="${cy + 10.5}" font-size="29">${MONO_LABELS[i]}</text>`);
});
// legend C
S.push(`<text x="1652" y="139" font-size="28" text-anchor="middle" textLength="255" lengthAdjust="spacingAndGlyphs">Legend for Panel C:</text>`);
S.push(`<text x="1651" y="168" font-size="28" font-weight="bold" text-anchor="middle" textLength="265" lengthAdjust="spacingAndGlyphs">Colistin / Imipenem</text>`);
S.push(`<text x="1652" y="197" font-size="28" font-weight="bold" text-anchor="middle">(xMIC)</text>`);
const C_ROW_Y = [226, 256, 286, 317, 347, 377, 407, 437, 467, 497, 528, 558, 588];
const C_SYM_SIZE = [[30, 23], [21, 18], [25, 18], [27, 20], [25, 17], [22, 17], [27, 20], [25, 19], [29, 22], [31, 22], [29, 20], [25, 20], [31, 22]];
COMBO_LABELS.forEach((lab, i) => {
  const cy = C_ROW_Y[i];
  S.push(symbol(SERIES_MARKERS[i], SERIES_ROT[i], 1572, cy, C_SYM_SIZE[i][0], C_SYM_SIZE[i][1], SERIES_COLORS[i], SERIES_OPEN[i], 4));
  const parts = lab.split(' / ');
  const b = cy + 9;
  S.push(`<g transform="translate(1624 ${b}) scale(1.45 1)"><text text-anchor="middle" font-size="26">${parts[0]}</text></g>`);
  S.push(`<g transform="translate(1668 ${b}) scale(1.3 1)"><text text-anchor="middle" font-size="26">/</text></g>`);
  S.push(`<g transform="translate(1706 ${b}) scale(1.45 1)"><text text-anchor="middle" font-size="26">${parts[1]}</text></g>`);
});
const ov = `<svg id="ov" xmlns="http://www.w3.org/2000/svg" width="1800" height="973" font-family="${FF}" fill="#000">${S.join('')}</svg>`;
root.insertAdjacentHTML('beforeend', ov);
</script></body></html>
